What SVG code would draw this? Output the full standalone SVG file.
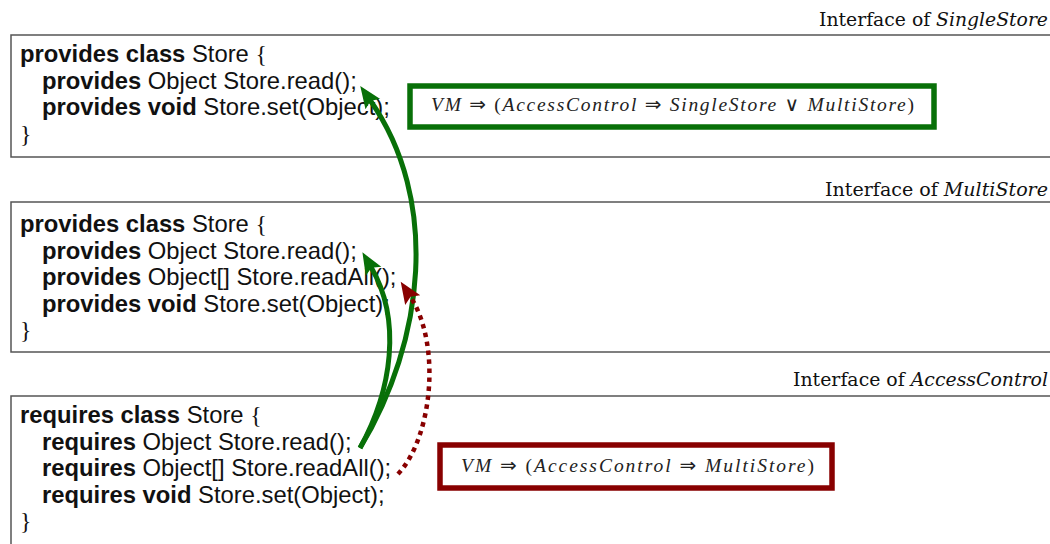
<svg xmlns="http://www.w3.org/2000/svg" width="1050" height="544" viewBox="0 0 1050 544">
<style>
.box{fill:#fff;stroke:#555;stroke-width:1.5}
.code{font-family:"Liberation Sans",Arial,sans-serif;font-size:23.8px;fill:#111}
.b{font-weight:bold}
.br{font-family:"Liberation Serif",serif}
.title{font-family:"DejaVu Serif",serif;font-size:18px;fill:#111}
.it{font-style:italic}
.f{font-family:"Liberation Serif","DejaVu Serif",serif;font-size:19.5px;fill:#222}
.fi{font-style:italic}
.sym{font-family:"DejaVu Sans",sans-serif;font-size:20px}
.green{fill:none;stroke:#087008;stroke-width:5}
.red{fill:none;stroke:#880000;stroke-width:4.5;stroke-dasharray:4.5 4.5}
</style>
<defs>
<marker id="ag" markerUnits="userSpaceOnUse" markerWidth="26" markerHeight="22" viewBox="0 0 26 22" refX="5" refY="11" orient="auto">
<path d="M0,2 L22,11 L0,20 L4,11 z" fill="#087008"/>
</marker>
<marker id="ar" markerUnits="userSpaceOnUse" markerWidth="26" markerHeight="22" viewBox="0 0 26 22" refX="5" refY="11" orient="auto">
<path d="M0,2 L22,11 L0,20 L4,11 z" fill="#880000"/>
</marker>
</defs>

<g id="single-store">
<rect class="box" x="11" y="35" width="1045" height="122"/>
<text class="title" x="1048" y="26" text-anchor="end" textLength="229" lengthAdjust="spacingAndGlyphs">Interface of <tspan class="it">SingleStore</tspan></text>
<text class="code" x="20" y="62"><tspan class="b">provides class</tspan> Store <tspan class="br">{</tspan></text>
<text class="code" x="42" y="88.5"><tspan class="b">provides</tspan> Object Store.read();</text>
<text class="code" x="42" y="115"><tspan class="b">provides void</tspan> Store.set(Object);</text>
<text class="code br" x="20" y="141.5">}</text>
</g>

<g id="multi-store">
<rect class="box" x="11" y="202" width="1045" height="150"/>
<text class="title" x="1048" y="196" text-anchor="end" textLength="223" lengthAdjust="spacingAndGlyphs">Interface of <tspan class="it">MultiStore</tspan></text>
<text class="code" x="20" y="232"><tspan class="b">provides class</tspan> Store <tspan class="br">{</tspan></text>
<text class="code" x="42" y="258.5"><tspan class="b">provides</tspan> Object Store.read();</text>
<text class="code" x="42" y="285"><tspan class="b">provides</tspan> Object[] Store.readAll();</text>
<text class="code" x="42" y="311.5"><tspan class="b">provides void</tspan> Store.set(Object);</text>
<text class="code br" x="20" y="338">}</text>
</g>

<g id="access-control">
<rect class="box" x="11" y="396" width="1045" height="160"/>
<text class="title" x="1048" y="386" text-anchor="end" textLength="255" lengthAdjust="spacingAndGlyphs">Interface of <tspan class="it">AccessControl</tspan></text>
<text class="code" x="20" y="423"><tspan class="b">requires class</tspan> Store <tspan class="br">{</tspan></text>
<text class="code" x="42" y="449.5"><tspan class="b">requires</tspan> Object Store.read();</text>
<text class="code" x="42" y="476"><tspan class="b">requires</tspan> Object[] Store.readAll();</text>
<text class="code" x="42" y="502.5"><tspan class="b">requires void</tspan> Store.set(Object);</text>
<text class="code br" x="20" y="529">}</text>
</g>

<g id="constraint-green">
<rect x="410" y="86" width="524" height="41" fill="#fff" stroke="#087008" stroke-width="5.5"/>
<text class="f" x="431" y="111" textLength="483" lengthAdjust="spacing"><tspan class="fi">VM</tspan> <tspan class="sym">⇒</tspan> (<tspan class="fi">AccessControl</tspan> <tspan class="sym">⇒</tspan> <tspan class="fi">SingleStore</tspan> <tspan class="sym">∨</tspan> <tspan class="fi">MultiStore</tspan>)</text>
</g>

<g id="constraint-red">
<rect x="440" y="445" width="392" height="43" fill="#fff" stroke="#880000" stroke-width="5.5"/>
<text class="f" x="461" y="472" textLength="353" lengthAdjust="spacing"><tspan class="fi">VM</tspan> <tspan class="sym">⇒</tspan> (<tspan class="fi">AccessControl</tspan> <tspan class="sym">⇒</tspan> <tspan class="fi">MultiStore</tspan>)</text>
</g>

<g id="connectors">
<path class="green" d="M360,448 C392,390 402,320 371,267" marker-end="url(#ag)"/>
<path class="green" d="M360,448 C425,340 440,200 370,100" marker-end="url(#ag)"/>
<path class="red" d="M398,474 C432,438 442,345 410,296" marker-end="url(#ar)"/>
</g>
</svg>
